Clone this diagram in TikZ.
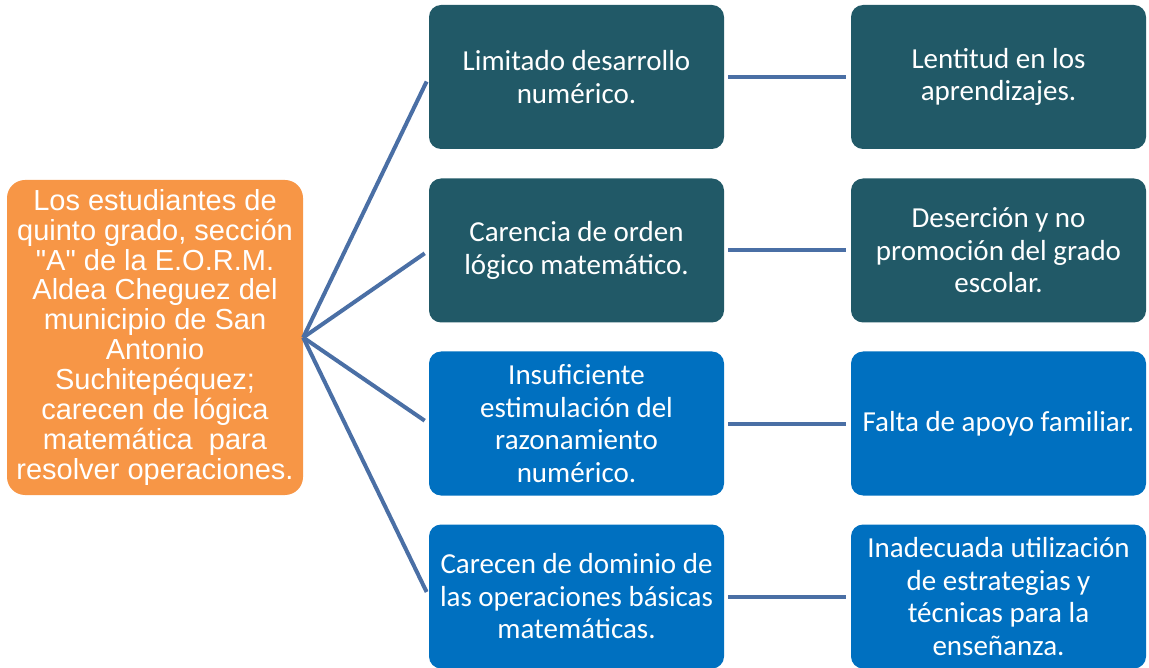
\documentclass[tikz,border=0pt]{standalone}
\usepackage{fontspec}
\setmainfont{Carlito}
\newfontfamily\arialfont{Liberation Sans}
\definecolor{naranja}{HTML}{F79646}
\definecolor{petroleo}{HTML}{215967}
\definecolor{azul}{HTML}{0070C0}
\definecolor{enlace}{HTML}{4A6FA5}
\begin{document}
\begin{tikzpicture}[x=1pt,y=-1pt,% ------ Arbol de problemas ----------------
    caja/.style={rounded corners=12pt,minimum width=295pt,minimum height=144pt,
      inner sep=0pt,text=white,align=center,font=\fontsize{29}{32.5}\selectfont},
    oscuro/.style={caja,fill=petroleo},
    claro/.style={caja,fill=azul},
    rama/.style={draw=enlace,line width=4pt,shorten >=5pt}]
    \useasboundingbox (0,0) rectangle (1149,668);
    % problema central
    \node [fill=naranja,rounded corners=18pt,minimum width=296pt,minimum height=315pt,
      inner sep=0pt,text=white,align=center,font=\arialfont\fontsize{29}{30}\selectfont]
      (problema) at (155,337.5) {Los estudiantes de\\quinto grado, sección\\"A" de la E.O.R.M.\\Aldea Cheguez del\\municipio de San\\Antonio\\Suchitepéquez;\\carecen de lógica\\matemática\ \ para\\resolver operaciones.};
    % causas
    \node [oscuro] (causa1) at (576.5,77) {Limitado desarrollo\\numérico.};
    \node [oscuro] (causa2) at (576.5,250.5) {Carencia de orden\\lógico matemático.};
    \node [claro] (causa3) at (576.5,423.5) {Insuficiente\\estimulación del\\razonamiento\\numérico.};
    \node [claro] (causa4) at (576.5,596.5) {Carecen de dominio de\\las operaciones básicas\\matemáticas.};
    % efectos
    \node [oscuro] (efecto1) at (998.5,77) {Lentitud en los\\aprendizajes.};
    \node [oscuro] (efecto2) at (998.5,250.5) {Deserción y no\\promoción del grado\\escolar.};
    \node [claro] (efecto3) at (998.5,423.5) {Falta de apoyo familiar.};
    \node [claro] (efecto4) at (998.5,596.5) {Inadecuada utilización\\de estrategias y\\técnicas para la\\enseñanza.};
    % ramas
    \draw [rama] (problema.east) -- (causa1.west);
    \draw [rama] (problema.east) -- (causa2.west);
    \draw [rama] (problema.east) -- (causa3.west);
    \draw [rama] (problema.east) -- (causa4.west);
    \draw [rama,shorten <=4pt] (causa1.east) -- (efecto1.west);
    \draw [rama,shorten <=4pt] (causa2.east) -- (efecto2.west);
    \draw [rama,shorten <=4pt] (causa3.east) -- (efecto3.west);
    \draw [rama,shorten <=4pt] (causa4.east) -- (efecto4.west);
\end{tikzpicture}
\end{document}
